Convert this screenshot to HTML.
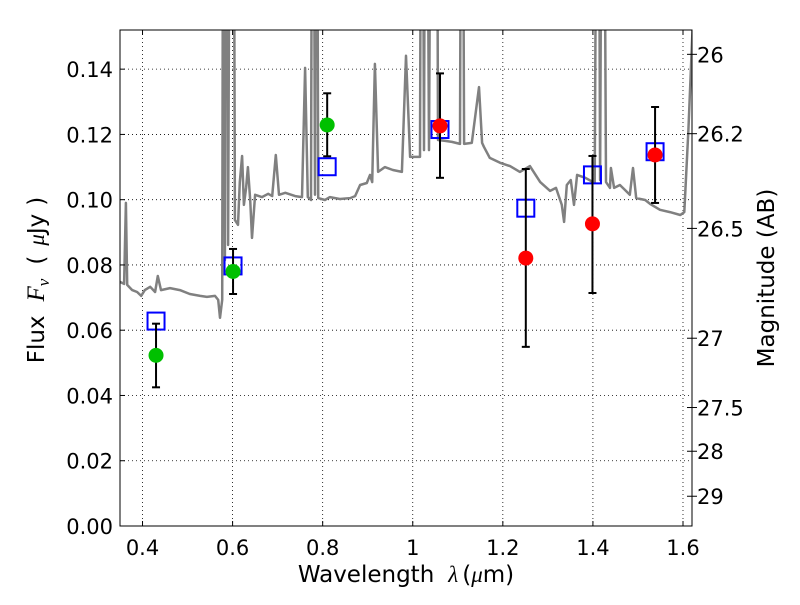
<!DOCTYPE html>
<html><head><meta charset="utf-8"><style>
body{margin:0;background:#fff;}
svg text{font-family:"DejaVu Sans","Liberation Sans",sans-serif;fill:#000;white-space:pre;}
.m{font-family:"Liberation Serif","DejaVu Serif",serif;font-style:italic;}
</style></head><body>
<svg id="chart" width="800" height="600" xmlns="http://www.w3.org/2000/svg">
<defs><clipPath id="clip"><rect x="120" y="30" width="572" height="496"/></clipPath></defs>
<rect width="800" height="600" fill="#fff"/>
<g id="grid"></g>
<g id="spec" clip-path="url(#clip)"></g>
<g id="marks"></g>
<rect x="120" y="30" width="572" height="496" fill="none" stroke="#000" stroke-width="1"/>
<g id="axes"></g>
<text x="406" y="582" font-size="23" text-anchor="middle">Wavelength<tspan dx="14" class="m">λ</tspan><tspan dx="4">(</tspan><tspan class="m">μ</tspan>m)</text>
<text transform="translate(44,280) rotate(-90)" font-size="23" text-anchor="middle">Flux<tspan dx="14" class="m" font-size="25">F</tspan><tspan class="m" font-size="17" dy="5">ν</tspan><tspan dy="-5" dx="14">(</tspan><tspan dx="10" class="m">μ</tspan>Jy<tspan dx="8">)</tspan></text>
<text transform="translate(774,278) rotate(-90)" font-size="23" text-anchor="middle">Magnitude (AB)</text>
</svg>
<script>
const specWl=[0.350,0.359,0.363,0.366,0.377,0.388,0.397,0.405,0.417,0.428,0.434,0.441,0.461,0.483,0.505,0.528,0.543,0.561,0.568,0.572,0.577,0.580,0.583,0.585,0.590,0.596,0.601,0.605,0.612,0.616,0.621,0.625,0.630,0.634,0.639,0.643,0.650,0.665,0.679,0.688,0.696,0.703,0.717,0.739,0.754,0.761,0.767,0.774,0.778,0.783,0.786,0.790,0.805,0.816,0.838,0.861,0.872,0.883,0.898,0.905,0.910,0.916,0.923,0.938,0.956,0.976,0.985,0.994,1.016,1.020,1.025,1.029,1.036,1.043,1.052,1.056,1.072,1.087,1.105,1.109,1.114,1.131,1.147,1.154,1.158,1.171,1.194,1.216,1.238,1.260,1.283,1.305,1.318,1.331,1.336,1.342,1.351,1.358,1.365,1.383,1.404,1.411,1.416,1.422,1.429,1.438,1.440,1.447,1.460,1.471,1.482,1.489,1.496,1.516,1.527,1.549,1.571,1.594,1.603,1.612,1.621];
const specFlux=[0.0748,0.0742,0.099,0.0739,0.0723,0.0717,0.0705,0.0723,0.0733,0.0717,0.0766,0.0723,0.0729,0.0723,0.0711,0.0705,0.0702,0.0705,0.0693,0.0638,0.0693,0.30,0.0815,0.30,0.0861,0.30,0.30,0.0938,0.0923,0.1054,0.1134,0.0984,0.1036,0.110,0.0999,0.0883,0.1015,0.1008,0.1018,0.1011,0.1137,0.1015,0.1021,0.1011,0.1008,0.1404,0.1008,0.0999,0.30,0.1015,0.30,0.1005,0.0999,0.1008,0.1002,0.1005,0.1011,0.1045,0.1051,0.1076,0.1054,0.1416,0.1085,0.110,0.1091,0.1085,0.1441,0.1131,0.1131,0.30,0.1152,0.30,0.1152,0.30,0.30,0.1183,0.118,0.1177,0.1171,0.30,0.1171,0.1174,0.1345,0.1174,0.1162,0.1128,0.1113,0.1103,0.1085,0.1103,0.1054,0.1027,0.1036,0.0984,0.0932,0.1045,0.106,0.0984,0.1076,0.1067,0.1051,0.30,0.106,0.30,0.1054,0.1036,0.1097,0.1036,0.1045,0.103,0.1015,0.1097,0.1005,0.0999,0.0987,0.0969,0.0962,0.0953,0.0962,0.1214,0.152];
const greenWl=[0.43,0.601,0.81];
const greenFlux=[0.0523,0.078,0.1229];
const greenLo=[0.0425,0.0711,0.1133];
const greenHi=[0.062,0.0849,0.1326];
const redWl=[1.0605,1.251,1.399,1.538];
const redFlux=[0.1226,0.0821,0.0926,0.1137];
const redLo=[0.1067,0.0549,0.0714,0.099];
const redHi=[0.1387,0.1094,0.1134,0.1284];
const modelWl=[0.43,0.601,0.81,1.0605,1.251,1.399,1.538];
const modelFlux=[0.0628,0.0797,0.1101,0.1215,0.0974,0.1076,0.1147];
const xTicks=[0.4,0.6,0.8,1.0,1.2,1.4,1.6];
const xTickLabels=["0.4","0.6","0.8","1","1.2","1.4","1.6"];
const yTicks=[0,0.02,0.04,0.06,0.08,0.10,0.12,0.14];
const yTickLabels=["0.00","0.02","0.04","0.06","0.08","0.10","0.12","0.14"];
const magTicks=[26,26.2,26.5,27,27.5,28,29];
const magTickLabels=["26","26.2","26.5","27","27.5","28","29"];

const X0=120,X1=692,Y0=526,Y1=30,XMIN=0.35,XMAX=1.62,YMIN=0,YMAX=0.152;
const xs=v=>X0+(v-XMIN)/(XMAX-XMIN)*(X1-X0);
const ys=v=>Y0-(v-YMIN)/(YMAX-YMIN)*(Y0-Y1);
const magToFlux=m=>Math.pow(10,(23.9-m)/2.5);
const NS="http://www.w3.org/2000/svg";
function mk(tag,attrs,parent){const e=document.createElementNS(NS,tag);for(const k in attrs)e.setAttribute(k,attrs[k]);parent.appendChild(e);return e;}
const grid=document.getElementById('grid'),axes=document.getElementById('axes'),spec=document.getElementById('spec'),marks=document.getElementById('marks');

xTicks.forEach((t,i)=>{const x=xs(t);
 const g=mk('line',{x1:x,x2:x,y1:Y1,y2:Y0,stroke:'#000','stroke-width':0.8,'stroke-dasharray':'1,3'},grid);
 
 
 mk('line',{x1:x,x2:x,y1:Y0,y2:Y0-5,stroke:'#000'},axes);
 mk('line',{x1:x,x2:x,y1:Y1,y2:Y1+5,stroke:'#000'},axes);
 const l=mk('text',{x:x,y:555,'font-size':21,'text-anchor':'middle'},axes);l.textContent=xTickLabels[i];
 
 
});
yTicks.forEach((t,i)=>{const y=ys(t);
 const g=mk('line',{x1:X0,x2:X1,y1:y,y2:y,stroke:'#000','stroke-width':0.8,'stroke-dasharray':'1,3'},grid);
 
 
 mk('line',{x1:X0,x2:X0+5,y1:y,y2:y,stroke:'#000'},axes);
 const l=mk('text',{x:113,y:y+8,'font-size':21,'text-anchor':'end'},axes);l.textContent=yTickLabels[i];
 
 
});
magTicks.forEach((m,i)=>{const y=ys(magToFlux(m));
 mk('line',{x1:X1,x2:X1-5,y1:y,y2:y,stroke:'#000'},axes);
 mk('line',{x1:X1,x2:X1+5,y1:y,y2:y,stroke:'#000'},axes);
 const l=mk('text',{x:697,y:y+8,'font-size':21},axes);l.textContent=magTickLabels[i];
 
 
});

const d=specWl.map((w,i)=>(i?'L':'M')+xs(w).toFixed(1)+','+ys(specFlux[i]).toFixed(1)).join('');
const p=mk('path',{d:d,fill:'none',stroke:'#808080','stroke-width':2.5,'stroke-linejoin':'round'},spec);



modelWl.forEach((w,i)=>{const x=xs(w),y=ys(modelFlux[i]);
 const r=mk('rect',{x:x-8.5,y:y-8.5,width:17,height:17,fill:'none',stroke:'#0000ff','stroke-width':2},marks);
 
 
});
function errbar(w,lo,hi){const x=xs(w),a=ys(lo),b=ys(hi);
 const g=mk('g',{stroke:'#000','stroke-width':2},marks);
 
 
 mk('line',{x1:x,x2:x,y1:a,y2:b},g);mk('line',{x1:x-4,x2:x+4,y1:a,y2:a},g);mk('line',{x1:x-4,x2:x+4,y1:b,y2:b},g);}
greenWl.forEach((w,i)=>{errbar(w,greenLo[i],greenHi[i]);
 const c=mk('circle',{cx:xs(w),cy:ys(greenFlux[i]),r:7.5,fill:'#00c000'},marks);
 
 
});
redWl.forEach((w,i)=>{errbar(w,redLo[i],redHi[i]);
 const c=mk('circle',{cx:xs(w),cy:ys(redFlux[i]),r:7.5,fill:'#ff0000'},marks);
 
 
});
</script>
</body></html>
